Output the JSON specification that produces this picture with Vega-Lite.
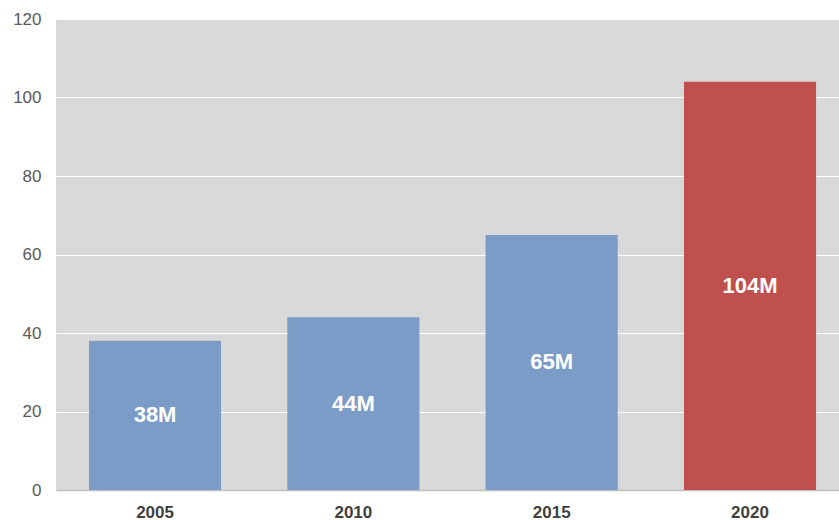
{
  "$schema": "https://vega.github.io/schema/vega-lite/v6.json",
  "width": 783,
  "height": 471,
  "autosize": {"type": "none"},
  "padding": {"left": 56, "top": 19, "right": 0, "bottom": 30},
  "background": "white",
  "config": {
    "view": {"fill": "#d9d9d9", "stroke": null},
    "font": "Liberation Sans"
  },
  "data": {
    "values": [
      {"year": "2005", "value": 38, "label": "38M", "highlight": "no"},
      {"year": "2010", "value": 44, "label": "44M", "highlight": "no"},
      {"year": "2015", "value": 65, "label": "65M", "highlight": "no"},
      {"year": "2020", "value": 104, "label": "104M", "highlight": "yes"}
    ]
  },
  "encoding": {
    "x": {
      "field": "year",
      "type": "nominal",
      "sort": null,
      "scale": {"paddingInner": 0.334, "paddingOuter": 0.141, "align": 0.59},
      "axis": {
        "title": null,
        "labelAngle": 0,
        "labelFont": "Liberation Sans",
        "labelFontSize": 17,
        "labelFontWeight": "bold",
        "labelColor": "#404040",
        "labelPadding": 14,
        "ticks": false,
        "domain": true,
        "domainColor": "#bfbfbf",
        "domainWidth": 1.5,
        "grid": false
      }
    }
  },
  "layer": [
    {
      "mark": {"type": "bar"},
      "encoding": {
        "y": {
          "field": "value",
          "type": "quantitative",
          "scale": {"domain": [0, 120], "nice": false},
          "axis": {
            "title": null,
            "values": [0, 20, 40, 60, 80, 100, 120],
            "labelFont": "Liberation Sans",
            "labelFontSize": 17,
            "labelColor": "#595959",
            "labelPadding": 15,
            "ticks": false,
            "domain": false,
            "grid": true,
            "gridColor": "#ffffff",
            "gridWidth": 1
          }
        },
        "color": {
          "field": "highlight",
          "type": "nominal",
          "scale": {"domain": ["no", "yes"], "range": ["#7a9cc6", "#c0504d"]},
          "legend": null
        }
      }
    },
    {
      "transform": [{"calculate": "datum.value / 2", "as": "mid"}],
      "mark": {
        "type": "text",
        "color": "white",
        "fontSize": 22,
        "fontWeight": "bold",
        "font": "Liberation Sans",
        "baseline": "middle",
        "align": "center"
      },
      "encoding": {
        "y": {"field": "mid", "type": "quantitative"},
        "text": {"field": "label"}
      }
    }
  ]
}
